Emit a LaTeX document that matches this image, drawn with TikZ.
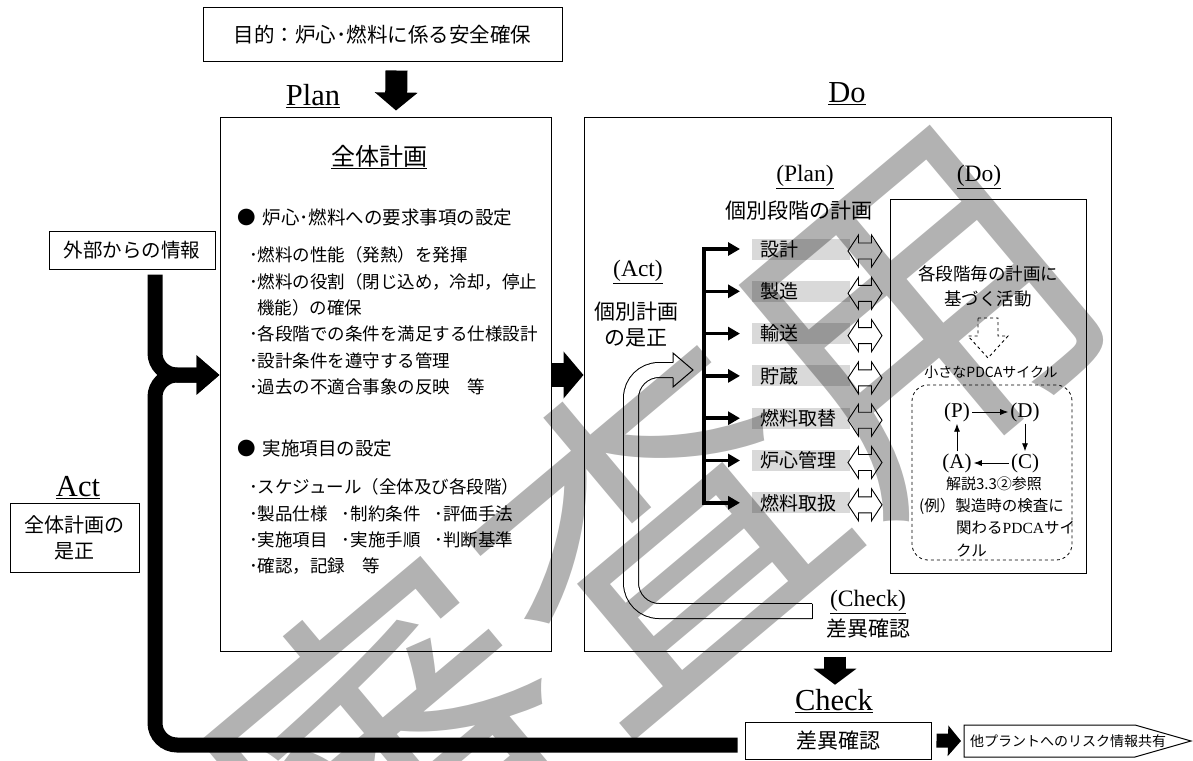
\documentclass[tikz,border=0pt]{standalone}
\usepackage{fontspec}
\setmainfont{Noto Sans CJK JP}
\newfontfamily\latinfont{Liberation Serif}
\usetikzlibrary{arrows.meta}

\newcommand{\jfont}[2]{\fontsize{#1}{#2}\selectfont}
\definecolor{stagegray}{gray}{0.85}

\begin{document}
\begin{tikzpicture}[
    x=1pt, y=-1pt, % one unit per pixel, y pointing down
    box/.style={draw, line width=1pt, inner sep=0pt},
    phase/.style={font=\latinfont\jfont{30.5}{32}},
    subphase/.style={font=\latinfont\jfont{23.5}{26}},
    head/.style={anchor=west, inner sep=0pt, font=\jfont{18.5}{20}},
    item/.style={anchor=west, inner sep=0pt, font=\jfont{17.5}{20}},
    stage/.style={anchor=west, fill=stagegray, minimum height=21pt,
        text width=82pt, inner xsep=8pt, inner ysep=0pt, font=\jfont{19}{20}},
    branch/.style={-{Triangle[width=13pt,length=12pt]}, line width=3.5pt},
    cycarrow/.style={-{Latex[width=6pt,length=8pt]}, line width=0.8pt},
    loopline/.style={-{Triangle[width=38pt,length=23pt]}, line width=15pt,
        rounded corners=22pt},
    lrarrow/.pic={
        \draw[line width=0.9pt, fill=white] (-17,0) -- (-6.5,-16) -- (-6.5,-8)
            -- (6.5,-8) -- (6.5,-16) -- (17,0) -- (6.5,16) -- (6.5,8)
            -- (-6.5,8) -- (-6.5,16) -- cycle;
    }
    ]
    \useasboundingbox (0,0) rectangle (1193,760);

    % boxes
    \node[box, minimum width=359pt, minimum height=54pt] (goal) at (382.5,35)
        {\jfont{20.5}{22}目的：炉心･燃料に係る安全確保};
    \node[box, minimum width=331pt, minimum height=534pt] (plan) at (385.5,384) {};
    \node[box, minimum width=527pt, minimum height=534pt] (do) at (847.5,384) {};
    \node[box, minimum width=166pt, minimum height=38pt] (info) at (132,250)
        {\jfont{19.5}{22}外部からの情報};
    \node[box, minimum width=129pt, minimum height=69pt, align=center,
        font=\jfont{20}{26}] (actbox) at (74.5,537.5) {全体計画の\\是正};
    \node[box, minimum width=196pt, minimum height=374pt] (inner) at (988,386) {};
    \node[draw, dashed, line width=0.8pt, rounded corners=16pt,
        minimum width=160pt, minimum height=175pt] (small) at (992,472.5) {};
    \node[box, minimum width=186pt, minimum height=37pt] (ckbox) at (838,740.5)
        {\jfont{21}{22}差異確認};

    % phase labels
    \node[phase] (planlab) at (313,96) {\underline{Plan}};
    \node[phase] (dolab) at (847,94) {\underline{Do}};
    \node[phase] (actlab) at (78,488) {\underline{Act}};
    \node[phase] (cklab) at (834,701) {\underline{Check}};

    % plan box contents
    \node[font=\jfont{24}{26}] (whole) at (379,157) {\underline{全体計画}};
    \node[head] at (237,217) {●\hspace{7pt}炉心･燃料への要求事項の設定};
    \node[item] at (249,255) {･燃料の性能（発熱）を発揮};
    \node[item] at (249,282) {･燃料の役割（閉じ込め，冷却，停止};
    \node[item] at (257,308) {機能）の確保};
    \node[item] at (249,334) {･各段階での条件を満足する仕様設計};
    \node[item] at (249,361) {･設計条件を遵守する管理};
    \node[item] at (249,387) {･過去の不適合事象の反映　等};
    \node[head] at (237,449) {●\hspace{7pt}実施項目の設定};
    \node[item] at (249,487) {･スケジュール（全体及び各段階）};
    \node[item] at (249,514) {･製品仕様\hspace{14pt}･制約条件\hspace{14pt}･評価手法};
    \node[item] at (249,540) {･実施項目\hspace{14pt}･実施手順\hspace{14pt}･判断基準};
    \node[item] at (249,566) {･確認，記録　等};

    % do box contents
    \node[subphase] (plansub) at (805,177) {\underline{(Plan)}};
    \node[subphase] (dosub) at (979,177) {\underline{(Do)}};
    \node[font=\jfont{21}{22}] (stageplan) at (799,211) {個別段階の計画};
    \node[subphase] (actsub) at (638,272) {\underline{(Act)}};
    \node[font=\jfont{21}{26}, align=center] (fix) at (636,325) {個別計画\\の是正};
    \node[subphase] (cksub) at (868,602) {\underline{(Check)}};
    \node[font=\jfont{21}{22}] (diff) at (868,629) {差異確認};

    % stages
    \draw[line width=3.5pt] (704,247) -- (704,504.5);
    \foreach \name [count=\i from 0] in {設計,製造,輸送,貯蔵,燃料取替,炉心管理,燃料取扱} {
        \node[stage] (s\i) at (752,{249+42.3*\i}) {\name};
        \draw[branch] (704,{249+42.3*\i}) -- ([xshift=-12pt]s\i.west);
        \pic at (865,{251+42.3*\i}) {lrarrow};
    }

    % small cycle
    \node[font=\jfont{17.5}{25}, align=center] (act2) at (988,286) {各段階毎の計画に\\基づく活動};
    \draw[dashed, line width=0.9pt] (978,318) -- (998,318) -- (998,336) -- (1008,336)
        -- (988,358) -- (968,336) -- (978,336) -- cycle;
    \node[font=\jfont{14}{16}] (smallpdca) at (991,372) {小さなPDCAサイクル};
    \node[font=\latinfont\jfont{21}{22}, inner sep=2pt] (P) at (957,412) {(P)};
    \node[font=\latinfont\jfont{21}{22}, inner sep=2pt] (D) at (1025,412) {(D)};
    \node[font=\latinfont\jfont{21}{22}, inner sep=2pt] (A) at (957,463) {(A)};
    \node[font=\latinfont\jfont{21}{22}, inner sep=2pt] (C) at (1025,463) {(C)};
    \draw[cycarrow] (P) -- (D);
    \draw[cycarrow] (D) -- (C);
    \draw[cycarrow] (C) -- (A);
    \draw[cycarrow] (A) -- (P);
    \node[font=\jfont{15}{16}] (ref) at (994,484) {解説3.3②参照};
    \node[font=\jfont{15.5}{16}, anchor=west, inner sep=0pt] (ex1) at (919,506) {(例）製造時の検査に};
    \node[font=\jfont{15.5}{16}, anchor=west, inner sep=0pt] (ex2) at (956,528) {関わる{\latinfont PDCA}サイ};
    \node[font=\jfont{15.5}{16}, anchor=west, inner sep=0pt] (ex3) at (956,551) {クル};

    % hollow return arrow
    \coordinate (ustart) at (812,611);
    \draw[line width=1pt, double=white, double distance=14pt, rounded corners=28pt]
        (ustart) -- (631,611) -- (631,370) -- (673.5,370);
    \draw[line width=1pt] (812,603.5) -- (812,618.5);
    \draw[line width=1pt, fill=white] (673,362.5) -- (673,353) -- (693,370)
        -- (673,387) -- (673,377.5);

    % outside share
    \node[anchor=west, inner sep=0pt, minimum height=32pt, font=\jfont{14}{16}]
        (share) at (970,741) {他プラントへのリスク情報共有};
    \draw[line width=1pt] (964,725) -- (1135,725) -- (1191,741) -- (1135,757)
        -- (964,757) -- cycle;

    % block arrows
    \draw[-{Triangle[width=42pt,length=18pt]}, line width=22pt]
        ([xshift=14pt,yshift=-8pt]goal.south) -- ([xshift=10.5pt,yshift=6pt]plan.north);
    \draw[-{Triangle[width=46pt,length=20pt]}, line width=24pt]
        ([yshift=9pt]plan.east) -- ([yshift=9pt]do.west);
    \draw[-{Triangle[width=42pt,length=16pt]}, line width=22pt]
        ([xshift=-12.5pt,yshift=-5pt]do.south) -- ([xshift=1pt,yshift=1pt]cklab.north);
    \draw[-{Triangle[width=30pt,length=13pt]}, line width=14pt]
        ([xshift=5pt]ckbox.east) -- ([xshift=-9pt]share.west);

    % feedback lines
    \draw[loopline] ([xshift=23pt,yshift=-5pt]info.south) |- ([yshift=9pt]plan.west);
    \draw[loopline] ([xshift=-7pt,yshift=-4.5pt]ckbox.west) -- (155,745) -- (155,375)
        -- ([yshift=9pt]plan.west);

    % watermark
    \node[opacity=0.3, rotate=40, font=\jfont{340}{340}] (mark) at (655,530) {審査用};
\end{tikzpicture}
\end{document}
